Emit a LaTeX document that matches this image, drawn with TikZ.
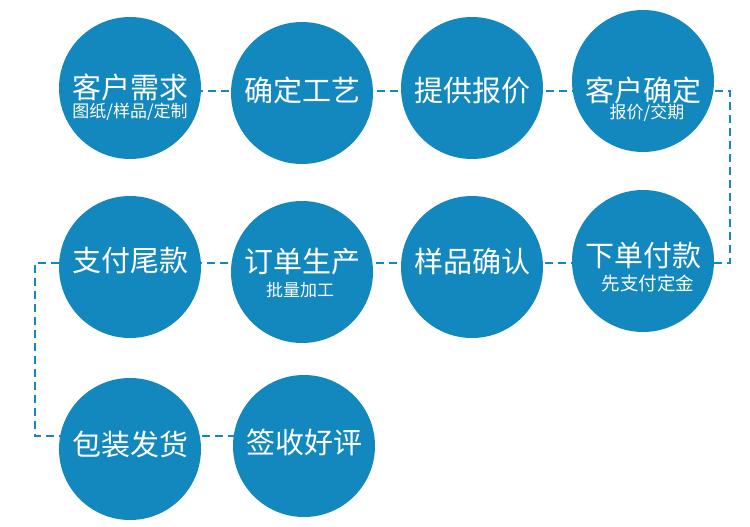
\documentclass[tikz,border=0pt]{standalone}
\usepackage{fontspec}
\newfontfamily\cjk{Noto Sans CJK SC}
\usetikzlibrary{positioning}
\definecolor{stepblue}{HTML}{1388BF}

\tikzset{
  stepdot/.style={circle,fill=stepblue,minimum size=142pt,inner sep=0pt},
  maintxt/.style={text=white,font=\cjk\fontsize{29}{30}\selectfont,inner sep=0pt},
  subtxt/.style={text=white,font=\cjk\fontsize{17}{18}\selectfont,inner sep=0pt},
  flow/.style={stepblue,line width=2.6pt,dash pattern=on 8pt off 5pt}
}

\begin{document}
\begin{tikzpicture}[x=1pt,y=-1pt]
  \useasboundingbox (0,0) rectangle (750,527);
  % path turns
  \coordinate (turnA) at (730,91);
  \coordinate (turnB) at (730,263);
  \coordinate (turnC) at (35,263);
  \coordinate (turnD) at (35,436);
  \coordinate (start) at (130,91);
  \coordinate (stop) at (304,436);
  \draw[flow] (start) -- (turnA) -- (turnB) -- (turnC) -- (turnD) -- (stop);

  % row 1
  \node[stepdot] (need) at (130,88) {};
  \node[stepdot] (craft) at (302,93) {};
  \node[stepdot] (quote) at (472,88) {};
  \node[stepdot] (confirm) at (643,81) {};
  % row 2
  \node[stepdot] (deposit) at (643,261) {};
  \node[stepdot] (sample) at (472,267) {};
  \node[stepdot] (produce) at (302,272) {};
  \node[stepdot] (balance) at (130,267) {};
  % row 3
  \node[stepdot] (pack) at (130,449) {};
  \node[stepdot] (sign) at (304,446) {};

  \node[maintxt] (needT) at (130,87) {客户需求};
  \node[subtxt] (needS) at (130,112) {图纸/样品/定制};
  \node[maintxt] (craftT) at (302,90) {确定工艺};
  \node[maintxt] (quoteT) at (472,91) {提供报价};
  \node[maintxt] (confirmT) at (643,90) {客户确定};
  \node[subtxt] (confirmS) at (647,113) {报价/交期};
  \node[maintxt] (depositT) at (643,256) {下单付款};
  \node[subtxt,font=\cjk\fontsize{18.5}{19}\selectfont] (depositS) at (648,283) {先支付定金};
  \node[maintxt] (sampleT) at (472,261) {样品确认};
  \node[maintxt] (produceT) at (302,262) {订单生产};
  \node[subtxt] (produceS) at (300,290) {批量加工};
  \node[maintxt] (balanceT) at (130,261) {支付尾款};
  \node[maintxt] (packT) at (130,444) {包装发货};
  \node[maintxt] (signT) at (304,442) {签收好评};
\end{tikzpicture}
\end{document}
